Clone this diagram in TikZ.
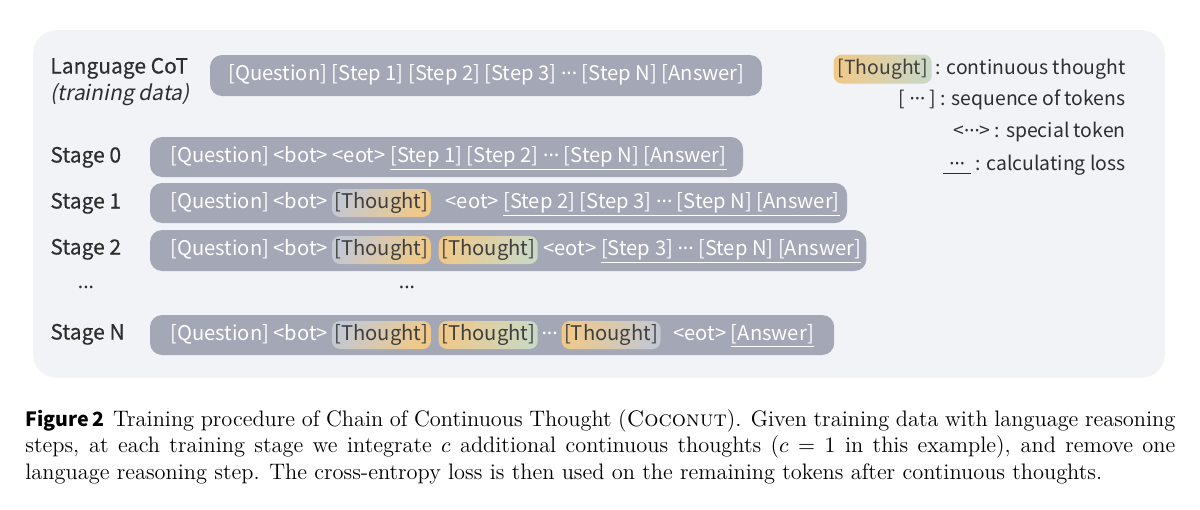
\documentclass[tikz,border=0pt]{standalone}
\usepackage{fontspec}
\usetikzlibrary{positioning, calc, backgrounds}

\newfontfamily\uifont{Noto Sans CJK KR}
\newfontfamily\uiitfont[FakeSlant=0.2]{Noto Sans CJK KR}
\newfontfamily\uimedfont[FakeBold=0.4]{Noto Sans CJK KR}
\newfontfamily\dotfont{Noto Sans}
\newcommand{\tdots}{{\dotfont ···}}

\definecolor{panelbg}{HTML}{F2F3F7}
\definecolor{boxgray}{HTML}{A3A7B6}
\definecolor{labeltext}{HTML}{2E2E2E}
\definecolor{thoughttext}{HTML}{3F3F3F}
\definecolor{thgray}{HTML}{C4C8D2}
\definecolor{thorange}{HTML}{EFC98A}
\definecolor{thgreen}{HTML}{CAD8C4}

\begin{document}
\begin{tikzpicture}[
            x = 0.5pt, y = -0.5pt,
            tok/.style = {
                font = \uifont\fontsize{10.1}{12}\selectfont,
                text = white,
                inner sep = 0pt,
                text height = 7.5pt,
                text depth = 2.5pt
            },
            thought/.style = {
                tok,
                text = thoughttext,
                rounded corners = 4pt,
                inner xsep = 1.3pt,
                inner ysep = 2pt
            },
            thoughtA/.style = {thought, left color = thgray, right color = thorange, shading angle = 60},
            thoughtB/.style = {thought, left color = thorange, right color = thgreen, shading angle = 75},
            thoughtC/.style = {thought, left color = thorange, right color = thgray, shading angle = 75},
            stagebox/.style = {fill = boxgray, rounded corners = 6pt},
            stagelabel/.style = {
                anchor = west,
                inner sep = 0pt,
                text = labeltext,
                text height = 8pt,
                text depth = 2.5pt,
                font = \uimedfont\fontsize{10.5}{12}\selectfont
            },
            legtext/.style = {
                anchor = east,
                inner sep = 0pt,
                text = labeltext,
                text height = 8pt,
                text depth = 2.5pt,
                font = \uifont\fontsize{9.7}{12}\selectfont
            },
            vdots/.style = {text = labeltext, inner sep = 0pt, font = \dotfont\fontsize{10}{12}\selectfont},
            caption/.style = {
                anchor = north west,
                inner sep = 0pt,
                text width = 575pt,
                align = justify,
                font = \fontsize{11.2}{13.25}\selectfont
            }
            ]
            \useasboundingbox (0,0) rectangle (1200,509);
            \begin{scope}[on background layer]
                \fill[white] (0,0) rectangle (1200,509);
                \fill[panelbg, rounded corners = 12pt] (33,30) rectangle (1165,378);
            \end{scope}

            % language chain of thought
            \node[stagelabel] (labcot) at (50,68) {Language CoT};
            \node[stagelabel, font = \uiitfont\fontsize{10.5}{12}\selectfont] (labdata) at (50,95) {(training data)};
            \node[tok, anchor = west] (cot) at (228,75) {[Question] [Step 1] [Step 2] [Step 3] \tdots{} [Step N] [Answer]};

            % stage 0
            \node[stagelabel] (lab0) at (50,157) {Stage 0};
            \node[tok, anchor = west] (q0) at (170,157) {[Question] <bot> <eot> \underline{[Step 1] [Step 2] \tdots{} [Step N] [Answer]}};

            % stage 1
            \node[stagelabel] (lab1) at (50,203) {Stage 1};
            \node[tok, anchor = west] (q1) at (170,203) {[Question] <bot>};
            \node[thoughtA, right = 1.5pt of q1] (t11) {[Thought]};
            \node[tok, right = 7pt of t11] (e1) {<eot> \underline{[Step 2] [Step 3] \tdots{} [Step N] [Answer]}};

            % stage 2
            \node[stagelabel] (lab2) at (50,249) {Stage 2};
            \node[tok, anchor = west] (q2) at (170,250) {[Question] <bot>};
            \node[thoughtA, right = 1.5pt of q2] (t21) {[Thought]};
            \node[thoughtB, right = 3.5pt of t21] (t22) {[Thought]};
            \node[tok, right = 2.5pt of t22] (e2) {<eot> \underline{[Step 3] \tdots{} [Step N] [Answer]}};

            \node[vdots] (dlab) at (86,290) {···};
            \node[vdots] (dmid) at (407,290) {···};

            % stage N
            \node[stagelabel] (labn) at (50,334) {Stage N};
            \node[tok, anchor = west] (qn) at (170,335) {[Question] <bot>};
            \node[thoughtA, right = 1.5pt of qn] (tn1) {[Thought]};
            \node[thoughtB, right = 3.5pt of tn1] (tn2) {[Thought]};
            \node[tok, right = 1.5pt of tn2] (dn) {\tdots};
            \node[thoughtC, right = 1.5pt of dn] (tn3) {[Thought]};
            \node[tok, right = 6pt of tn3] (en) {<eot> \underline{[Answer]}};

            \begin{scope}[on background layer]
                \fill[stagebox] (210,55) rectangle ($(cot.east)+(17,21)$);
                \fill[stagebox] (150,137) rectangle ($(q0.east)+(16,20)$);
                \fill[stagebox] (150,183) rectangle ($(e1.east)+(7,20)$);
                \fill[stagebox] (150,230) rectangle ($(e2.east)+(5,21)$);
                \fill[stagebox] (150,315) rectangle ($(en.east)+(20,20)$);
            \end{scope}

            % legend
            \node[legtext] (leg1) at (1126,69) {: continuous thought};
            \node[thoughtB, left = 1.5pt of leg1, inner xsep = 2pt, font = \uifont\fontsize{9.7}{12}\selectfont, text height = 8pt] (legt) {[Thought]};
            \node[legtext] (leg2) at (1126,100) {[ \tdots{} ] : sequence of tokens};
            \node[legtext] (leg3) at (1126,132) {<\tdots> : special token};
            \node[legtext] (leg4) at (1126,165) {\underline{\hspace{3pt}\tdots\hspace{3pt}} : calculating loss};

            % caption
            \node[caption] (cap) at (25,409) {\hyphenpenalty=10000{\uifont\bfseries\fontsize{9.8}{12}\selectfont Figure\,2}\hspace{0.4em}Training procedure of Chain of Continuous Thought (\textsc{Coconut}). Given training data with language reasoning\linebreak steps, at each training stage we integrate $c$ additional continuous thoughts ($c=1$ in this example), and remove one\linebreak language reasoning step. The cross-entropy loss is then used on the remaining tokens after continuous thoughts.};
        \end{tikzpicture}
\end{document}
